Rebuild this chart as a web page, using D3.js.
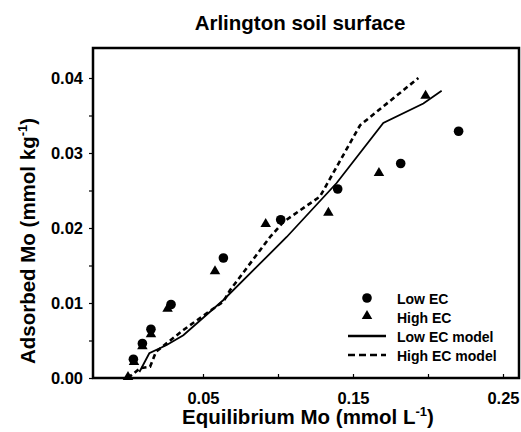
<!DOCTYPE html>
<html>
<head>
<meta charset="utf-8">
<title>Arlington soil surface</title>
<script src="https://d3js.org/d3.v7.min.js"></script>
<style>
    body { margin: 0; background: #fff; }
    text { font-family: "Liberation Sans", Arial, sans-serif; font-weight: bold; fill: #000; }
</style>
</head>
<body>
<script>

var lowX  = [0.0036, 0.0096, 0.0153, 0.0287, 0.0636, 0.1018, 0.1398, 0.1818, 0.2204];
var lowY  = [0.0025, 0.0046, 0.0065, 0.0098, 0.0160, 0.0211, 0.0252, 0.0286, 0.0329];
var highX = [0.0, 0.0040, 0.0096, 0.0153, 0.0264, 0.0580, 0.0918, 0.1336, 0.1673, 0.1984];
var highY = [0.0, 0.0020, 0.0041, 0.0057, 0.0091, 0.0141, 0.0204, 0.0219, 0.0272, 0.0375];

// Model curves
var lowModelX  = [0.0076, 0.0142, 0.0258, 0.0369, 0.0636, 0.1058, 0.1391, 0.1702, 0.1969, 0.2091];
var lowModelY  = [0.0008, 0.0033, 0.0044, 0.0057, 0.0104, 0.0188, 0.0260, 0.0340, 0.0366, 0.0383];
var highModelX = [0.0, 0.0080, 0.0147, 0.0187, 0.0369, 0.0636, 0.0680, 0.0947, 0.1036, 0.1280, 0.1547, 0.1936];
var highModelY = [0.0, 0.0013, 0.0015, 0.0035, 0.0064, 0.0102, 0.0117, 0.0188, 0.0208, 0.0242, 0.0337, 0.0400];

var yTicks = [0, 0.005, 0.01, 0.015, 0.02, 0.025, 0.03, 0.035, 0.04];
var yLabels = ["0.00", "", "0.01", "", "0.02", "", "0.03", "", "0.04"];
var xTicks = [0.05, 0.10, 0.15, 0.20, 0.25];
var xLabels = ["0.05", "", "0.15", "", "0.25"];

var legendItems = ["Low EC", "High EC", "Low EC model", "High EC model"];

var width = 521, height = 432;
// plot box (window.top is reserved, so use a prefix)
var pLeft = 93, pRight = 519, pTop = 48, pBottom = 378;

var svg = d3.select("body").append("svg")
    .attr("width", width)
    .attr("height", height);

var x = d3.scaleLinear().domain([-0.02333, 0.26067]).range([pLeft, pRight]);
var y = d3.scaleLinear().domain([0, 0.044]).range([pBottom, pTop]);

// title
svg.append("text")
    .attr("x", 300).attr("y", 30)
    .attr("text-anchor", "middle")
    .attr("font-size", "20.5px")
    .text("Arlington soil surface");

// y axis (ticks outward)
var yAxis = svg.append("g")
    .attr("transform", "translate(" + pLeft + ",0)")
    .call(d3.axisLeft(y).tickValues(yTicks).tickSize(4).tickPadding(6)
        .tickFormat(function(d, i) { return yLabels[i]; }));
yAxis.select(".domain").remove();
yAxis.selectAll("line").attr("stroke-width", 1.2);
yAxis.selectAll("text").attr("font-size", "16.5px").attr("dy", "0.36em")
    .style("font-family", "'Liberation Sans', Arial, sans-serif").style("font-weight", "bold");

// x axis (ticks inward)
var xAxis = svg.append("g")
    .attr("transform", "translate(0," + pBottom + ")")
    .call(d3.axisBottom(x).tickValues(xTicks).tickSize(-4).tickPadding(14)
        .tickFormat(function(d, i) { return xLabels[i]; }));
xAxis.select(".domain").remove();
xAxis.selectAll("line").attr("stroke-width", 1.2);
xAxis.selectAll("text").attr("font-size", "16.5px")
    .style("font-family", "'Liberation Sans', Arial, sans-serif").style("font-weight", "bold");

// frame
svg.append("rect")
    .attr("x", pLeft).attr("y", pTop)
    .attr("width", pRight - pLeft).attr("height", pBottom - pTop)
    .attr("fill", "none").attr("stroke", "#000").attr("stroke-width", 2.5);

// axis titles
var xt = svg.append("text")
    .attr("x", 308).attr("y", 424)
    .attr("text-anchor", "middle")
    .attr("font-size", "20.5px");
xt.append("tspan").text("Equilibrium Mo (mmol L");
xt.append("tspan").attr("font-size", "13px").attr("dy", "-8").text("-1");
xt.append("tspan").attr("dy", "8").text(")");

var yt = svg.append("text")
    .attr("transform", "translate(35,241) rotate(-90)")
    .attr("text-anchor", "middle")
    .attr("font-size", "20.5px");
yt.append("tspan").text("Adsorbed Mo (mmol kg");
yt.append("tspan").attr("font-size", "13px").attr("dy", "-8").text("-1");
yt.append("tspan").attr("dy", "8").text(")");

// model lines
var line = d3.line().x(function(d) { return x(d[0]); }).y(function(d) { return y(d[1]); });

svg.append("path")
    .datum(d3.zip(lowModelX, lowModelY))
    .attr("d", line)
    .attr("fill", "none").attr("stroke", "#000").attr("stroke-width", 1.8);

svg.append("path")
    .datum(d3.zip(highModelX, highModelY))
    .attr("d", line)
    .attr("fill", "none").attr("stroke", "#000").attr("stroke-width", 2.6)
    .attr("stroke-dasharray", "5,3.5");

// points
var tri = d3.symbol().type(d3.symbolTriangle).size(48);

svg.selectAll(".high").data(d3.zip(highX, highY)).enter()
    .append("path")
    .attr("class", "high")
    .attr("d", tri)
    .attr("transform", function(d) { return "translate(" + x(d[0]) + "," + (y(d[1]) - 1) + ")"; })
    .attr("fill", "#000");

svg.selectAll(".low").data(d3.zip(lowX, lowY)).enter()
    .append("circle")
    .attr("class", "low")
    .attr("cx", function(d) { return x(d[0]); })
    .attr("cy", function(d) { return y(d[1]); })
    .attr("r", 4.8)
    .attr("fill", "#000");

// legend
var lg = svg.append("g");
var rowY = [298, 317, 336, 355];

lg.append("circle").attr("cx", 367).attr("cy", rowY[0]).attr("r", 4.8).attr("fill", "#000");
lg.append("path").attr("d", tri).attr("transform", "translate(367," + (rowY[1] - 1) + ")").attr("fill", "#000");
lg.append("line").attr("x1", 348).attr("x2", 386).attr("y1", rowY[2]).attr("y2", rowY[2])
    .attr("stroke", "#000").attr("stroke-width", 2.6);
lg.append("line").attr("x1", 348).attr("x2", 386).attr("y1", rowY[3]).attr("y2", rowY[3])
    .attr("stroke", "#000").attr("stroke-width", 2.6).attr("stroke-dasharray", "7,4");

lg.selectAll("text").data(legendItems).enter()
    .append("text")
    .attr("x", 397)
    .attr("y", function(d, i) { return rowY[i] + 5.5; })
    .attr("font-size", "14px")
    .text(function(d) { return d; });

</script>
</body>
</html>
